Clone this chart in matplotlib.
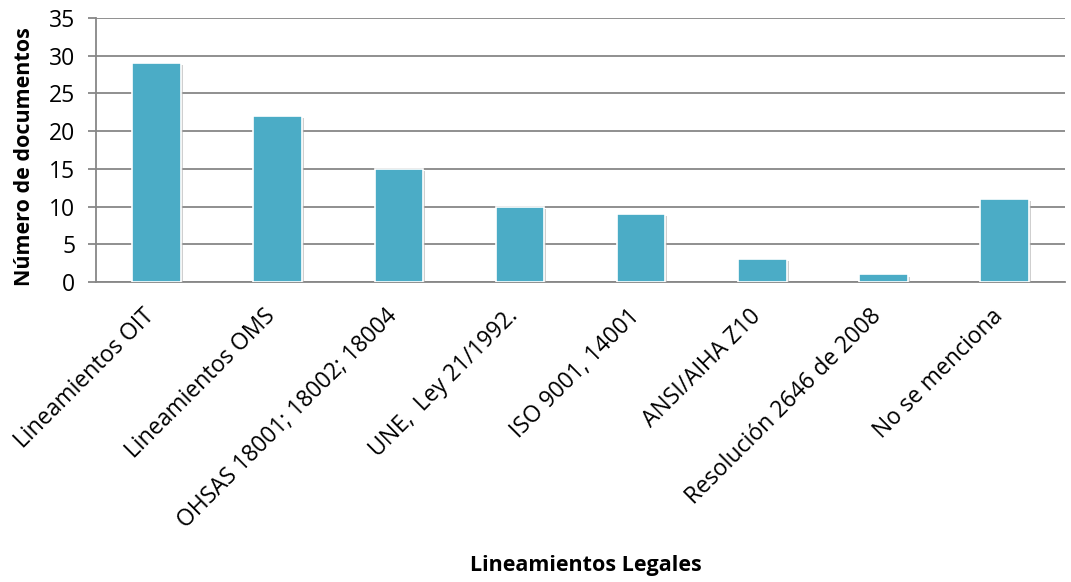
import matplotlib
matplotlib.use("Agg")
import matplotlib.pyplot as plt
import matplotlib.patheffects as pe
import matplotlib.transforms as mtransforms
import numpy as np

categories = ["Lineamientos OIT", "Lineamientos OMS", "OHSAS 18001; 18002; 18004",
              "UNE,  Ley 21/1992.", "ISO 9001, 14001", "ANSI/AIHA Z10",
              "Resolución 2646 de 2008", "No se menciona"]
values = [29, 22, 15, 10, 9, 3, 1, 11]

plt.rcParams['font.family'] = ['Open Sans', 'DejaVu Sans']

fig = plt.figure(figsize=(10.71, 5.82), dpi=100)
ax = fig.add_axes([0.0896, 0.5155, 0.905, 0.4535])

x = np.arange(len(categories))
bars = ax.bar(x, values, width=0.4, color="#4BACC6", edgecolor="white",
              linewidth=1.2, zorder=3)
for b in bars:
    b.set_path_effects([pe.SimplePatchShadow(offset=(1.5, -1.5), shadow_rgbFace="#b0b0b0", alpha=0.6),
                        pe.Normal()])

ax.set_xlim(-0.5, len(categories) - 0.5)
ax.set_ylim(0, 35)
ax.set_yticks(range(0, 36, 5))
ax.yaxis.grid(True, color="#878787", linewidth=1.3, zorder=0)
ax.set_axisbelow(True)

for s in ["top", "right"]:
    ax.spines[s].set_visible(False)
ax.spines["left"].set_color("#878787")
ax.spines["bottom"].set_color("#878787")
ax.spines["left"].set_linewidth(1.3)
ax.spines["bottom"].set_linewidth(1.3)

ax.tick_params(axis="y", length=6, color="#878787", width=1.3, labelsize=16.5, pad=9)
ax.tick_params(axis="x", length=0, labelsize=16.5, pad=16)
ax.set_xticks(x)
ax.set_xticklabels(categories, rotation=45, ha="right", rotation_mode="anchor")
# shift the rotated labels a bit left so they end under the bar
shift = mtransforms.ScaledTranslation(-10 / 72, 0, fig.dpi_scale_trans)
for lbl in ax.get_xticklabels():
    lbl.set_transform(lbl.get_transform() + shift)

ax.set_ylabel("Número de documentos", fontsize=15.5, fontweight="bold")
ax.yaxis.set_label_coords(-0.063, 0.475)
fig.text(585.5 / 1071, 0.029, "Lineamientos Legales", ha="center", va="center",
         fontsize=15.5, fontweight="bold")

fig.savefig("out.png", dpi=100)
